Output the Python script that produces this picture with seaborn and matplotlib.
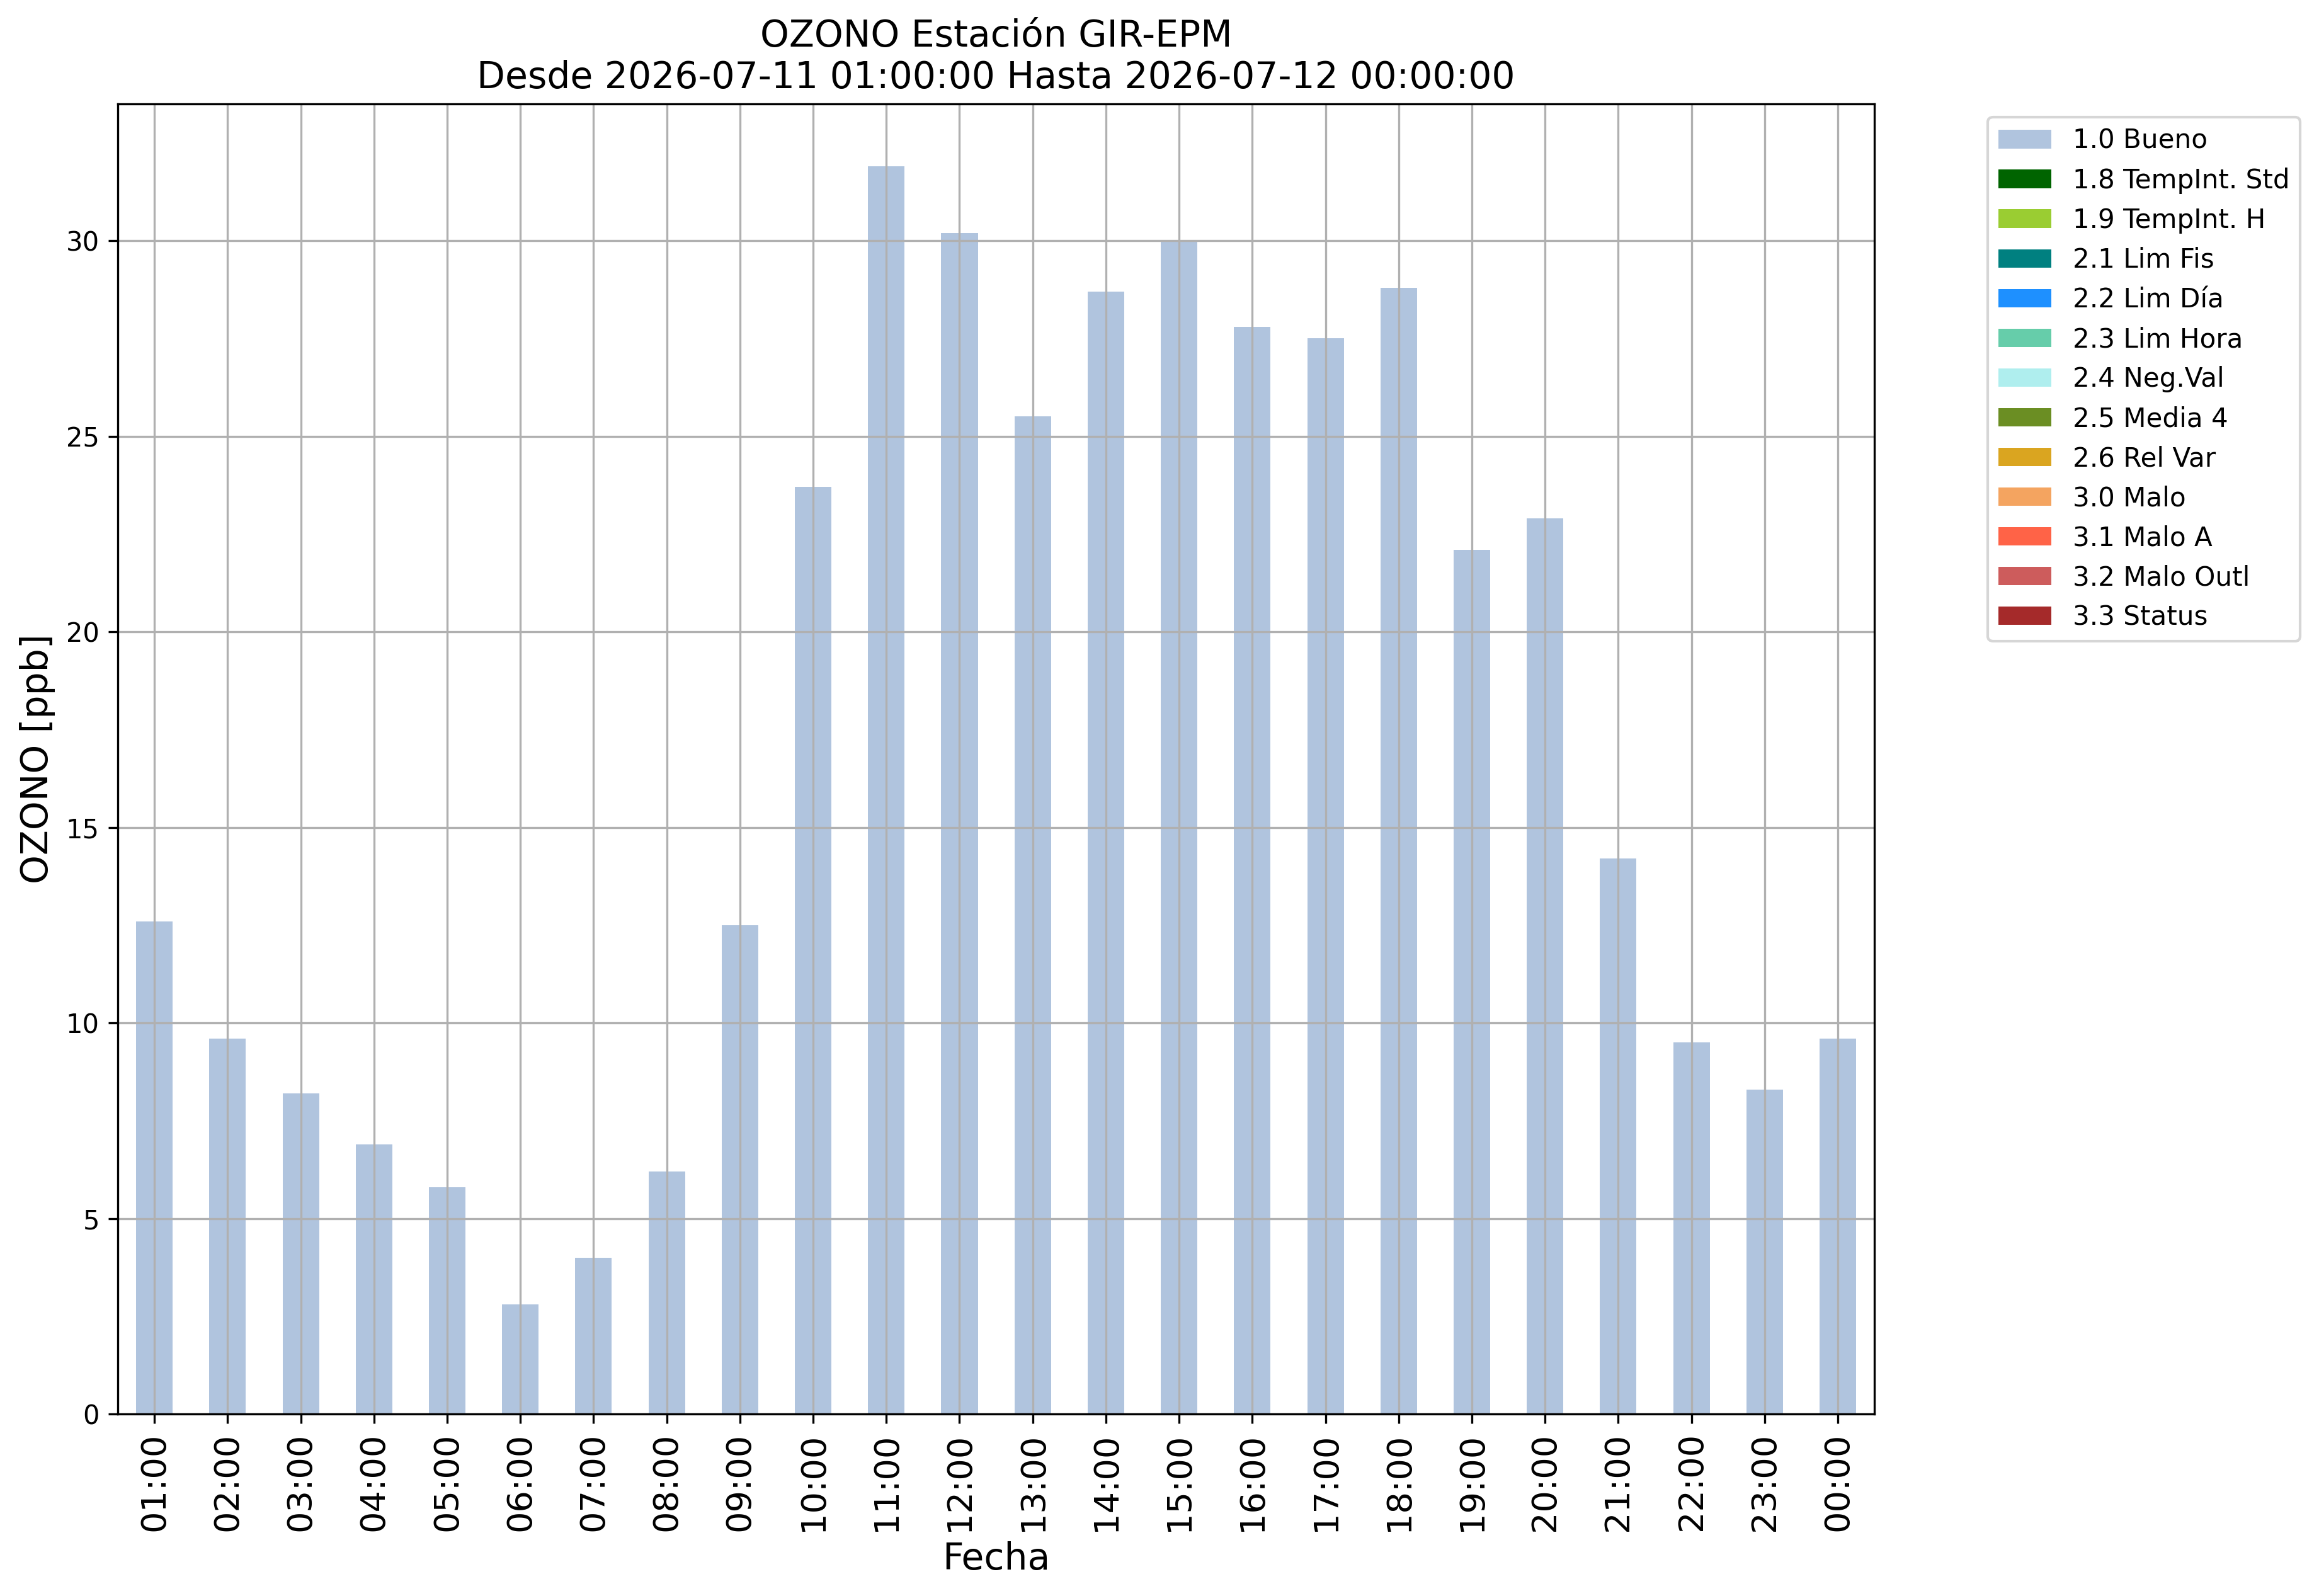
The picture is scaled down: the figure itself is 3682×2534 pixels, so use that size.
import matplotlib
matplotlib.use("Agg")
import matplotlib.pyplot as plt
from matplotlib.patches import Patch
import seaborn as sns

# hourly ozone values (all flagged "1.0 Bueno")
horas = ["01:00", "02:00", "03:00", "04:00", "05:00", "06:00", "07:00", "08:00",
         "09:00", "10:00", "11:00", "12:00", "13:00", "14:00", "15:00", "16:00",
         "17:00", "18:00", "19:00", "20:00", "21:00", "22:00", "23:00", "00:00"]
ozono = [12.6, 9.6, 8.2, 6.9, 5.8, 2.8, 4.0, 6.2, 12.5, 23.7, 31.9, 30.2,
         25.5, 28.7, 30.0, 27.8, 27.5, 28.8, 22.1, 22.9, 14.2, 9.5, 8.3, 9.6]

# quality flags and their colours
flags = ["1.0 Bueno", "1.8 TempInt. Std", "1.9 TempInt. H", "2.1 Lim Fis",
         "2.2 Lim Día", "2.3 Lim Hora", "2.4 Neg.Val", "2.5 Media 4",
         "2.6 Rel Var", "3.0 Malo", "3.1 Malo A", "3.2 Malo Outl", "3.3 Status"]
flag_colors = ["lightsteelblue", "darkgreen", "yellowgreen", "teal",
               "dodgerblue", "mediumaquamarine", "paleturquoise", "olivedrab",
               "goldenrod", "sandybrown", "tomato", "indianred", "brown"]

fig, ax = plt.subplots(figsize=(3682 / 300, 2534 / 300), dpi=300)
fig.subplots_adjust(left=0.0508, right=0.8083, bottom=0.1140, top=0.9349)

sns.barplot(x=horas, y=ozono, color=flag_colors[0], saturation=1,
            width=0.5, ax=ax)

ax.grid(True)
ax.set_xlim(-0.5, len(horas) - 0.5)
ax.set_ylim(0, max(ozono) * 1.05)
ax.tick_params(axis="x", labelsize=13, labelrotation=90)
ax.tick_params(axis="y", labelsize=10)

ax.set_title("OZONO Estación GIR-EPM\nDesde 2026-07-11 01:00:00 Hasta 2026-07-12 00:00:00",
             fontsize=14)
ax.set_xlabel("Fecha", fontsize=14)
ax.set_ylabel("OZONO [ppb]", fontsize=14)

handles = [Patch(facecolor=c, label=f) for f, c in zip(flags, flag_colors)]
ax.legend(handles=handles, bbox_to_anchor=(1.057, 1), loc="upper left",
          fontsize=10.1)

fig.savefig("out.png", dpi=300)
